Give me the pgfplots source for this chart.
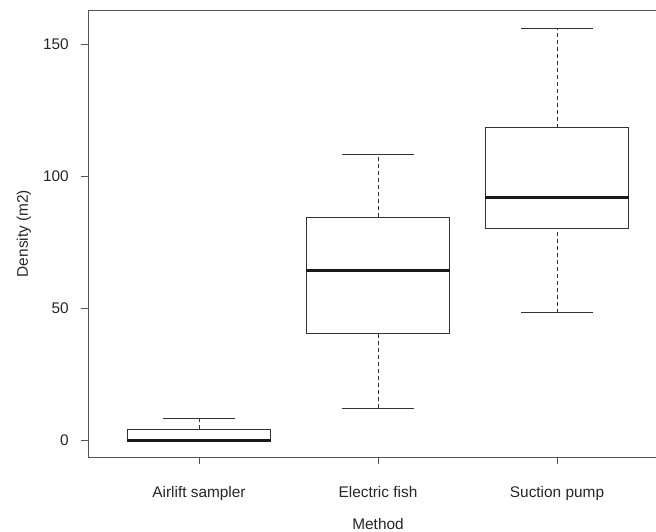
\documentclass[border=0pt]{standalone}
\usepackage{fontspec}
\setmainfont{Liberation Sans}
\usepackage{pgfplots}
\pgfplotsset{compat=1.18}
\definecolor{txt}{HTML}{262626}
\definecolor{axl}{HTML}{555555}
\definecolor{bxl}{HTML}{333333}
\begin{document}
\begin{tikzpicture}[font=\fontsize{15.4}{18}\selectfont]
\begin{axis}[
  at={(88pt,74pt)}, anchor=south west,
  width=568pt, height=447pt, scale only axis,
  xmin=0.38, xmax=3.553,
  ymin=-6.44, ymax=162.88,
  axis x line*=box, axis y line*=left,
  axis line style={axl, line width=0.8pt},
  xtick={1,2,3},
  xticklabels={Airlift sampler, Electric fish, Suction pump},
  xtick pos=lower, ytick pos=left,
  ytick={0,50,100,150},
  tick align=outside,
  major tick length=7pt,
  tick style={axl, line width=0.8pt},
  ticklabel style={font=\fontsize{15.4}{18}\selectfont, text=txt},
  /pgf/number format/assume math mode=true,
  yticklabel style={anchor=east, inner sep=0pt, xshift=-12pt},
  xticklabel style={anchor=base, inner sep=0pt, yshift=-33pt},
  xlabel={Method},
  ylabel={Density (m2)},
  label style={font=\fontsize{15.4}{18}\selectfont, text=txt},
  xlabel style={at={(axis description cs:0.5106,0)}, anchor=base, yshift=-72pt, inner sep=0pt},
  ylabel style={at={(axis description cs:-0.1127,0.5)}, anchor=center, inner sep=0pt},
  whisk/.style={bxl, line width=0.8pt, dash pattern=on 4pt off 3pt},
  cap/.style={bxl, line width=0.8pt},
  box/.style={draw=bxl, fill=white, line width=0.8pt},
  med/.style={black!90, line width=3pt},
]
% Airlift sampler: 0, 0, 0, 4.05, 8.2
\addplot[whisk] coordinates {(1,4.05) (1,8.2)};
\addplot[cap] coordinates {(0.8,8.2) (1.2,8.2)};
\addplot[cap] coordinates {(0.8,0) (1.2,0)};
\addplot[box] coordinates {(0.6,0) (1.4,0) (1.4,4.05) (0.6,4.05) (0.6,0)};
\addplot[med] coordinates {(0.6,0) (1.4,0)};
% Electric fish: 12, 40.4, 64.1, 84.3, 108.2
\addplot[whisk] coordinates {(2,12) (2,40.4)};
\addplot[whisk] coordinates {(2,84.3) (2,108.2)};
\addplot[cap] coordinates {(1.8,12) (2.2,12)};
\addplot[cap] coordinates {(1.8,108.2) (2.2,108.2)};
\addplot[box] coordinates {(1.6,40.4) (2.4,40.4) (2.4,84.3) (1.6,84.3) (1.6,40.4)};
\addplot[med] coordinates {(1.6,64.1) (2.4,64.1)};
% Suction pump: 48.2, 80.3, 91.9, 118.3, 156
\addplot[whisk] coordinates {(3,48.2) (3,80.3)};
\addplot[whisk] coordinates {(3,118.3) (3,156)};
\addplot[cap] coordinates {(2.8,48.2) (3.2,48.2)};
\addplot[cap] coordinates {(2.8,156) (3.2,156)};
\addplot[box] coordinates {(2.6,80.3) (3.4,80.3) (3.4,118.3) (2.6,118.3) (2.6,80.3)};
\addplot[med] coordinates {(2.6,91.9) (3.4,91.9)};
\end{axis}
\pgfresetboundingbox
\useasboundingbox (0,0) rectangle (656pt,531pt);
\end{tikzpicture}
\end{document}
